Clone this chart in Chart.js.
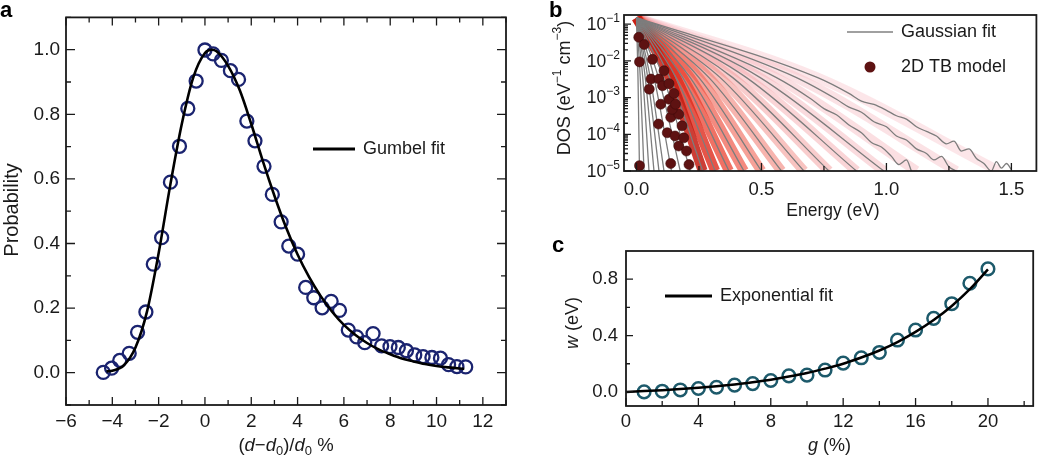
<!DOCTYPE html>
<html>
<head>
<meta charset="utf-8">
<script src="https://cdn.jsdelivr.net/npm/chart.js@4.4.0/dist/chart.umd.min.js"></script>
<style>
  html, body { margin: 0; padding: 0; background: #fff; }
  #wrap { position: relative; width: 1042px; height: 459px; overflow: hidden; }
  canvas { position: absolute; }
</style>
</head>
<body>
<div id="wrap">
  <canvas id="ca" width="520" height="459" style="left:0;top:0"></canvas>
  <canvas id="cb" width="512" height="230" style="left:530px;top:0"></canvas>
  <canvas id="cc" width="512" height="229" style="left:530px;top:230px"></canvas>
</div>
<script>
// ---- panel a : probability vs (d-d0)/d0
const aX = [-4.39, -4.03, -3.68, -3.27, -2.91, -2.55, -2.23, -1.87, -1.49, -1.1, -0.74, -0.38, 0.0, 0.35, 0.71, 1.1, 1.45,
  1.81, 2.16, 2.55, 2.91, 3.29, 3.62, 4.0, 4.35, 4.7, 5.06, 5.45, 5.81, 6.19, 6.55, 6.9, 7.26, 7.63, 7.99, 8.35, 8.7,
  9.06, 9.42, 9.8, 10.17, 10.52, 10.88, 11.26];
const aY = [0.001, 0.014, 0.038, 0.06, 0.125, 0.188, 0.336, 0.418, 0.59, 0.701, 0.818, 0.903, 0.999, 0.987, 0.967, 0.935, 0.908,
  0.779, 0.718, 0.639, 0.552, 0.467, 0.392, 0.367, 0.264, 0.232, 0.201, 0.221, 0.193, 0.132, 0.111, 0.093, 0.121, 0.083, 0.081, 0.078, 0.068,
  0.055, 0.05, 0.047, 0.045, 0.025, 0.019, 0.018];
const aFitX = [-4.25, -4, -3.5, -3, -2.5, -2, -1.5, -1, -0.5, 0, 0.3, 0.5, 1, 1.5, 2, 2.5, 3, 3.5, 4, 4.5, 5, 5.5, 6, 6.5, 7, 7.5, 8, 8.5, 9, 9.5, 10, 10.5, 11, 11.2];
const aFitY = [0.004, 0.006, 0.023, 0.078, 0.19, 0.37, 0.58, 0.77, 0.915, 0.99, 1.0, 0.995, 0.95, 0.875, 0.77, 0.655, 0.548, 0.45, 0.366, 0.296,
  0.237, 0.188, 0.148, 0.117, 0.092, 0.072, 0.057, 0.044, 0.035, 0.027, 0.021, 0.0165, 0.013, 0.012];
const aXTicks = [-6, -4, -2, 0, 2, 4, 6, 8, 10, 12];
const aYTicks = [0, 0.2, 0.4, 0.6, 0.8, 1.0];

// ---- panel b : DOS tails (log scale)
const bEnd  = [0.012, 0.03, 0.05, 0.07, 0.09, 0.11, 0.14, 0.175, 0.215, 0.265, 0.315, 0.37, 0.43, 0.5, 0.58, 0.67, 0.77, 0.88, 0.99, 1.12, 1.28, 1.45];
const bMidE = [0.006, 0.015, 0.025, 0.035, 0.045, 0.055, 0.07, 0.088, 0.108, 0.133, 0.158, 0.185, 0.215, 0.25, 0.29, 0.335, 0.385, 0.44, 0.495, 0.56, 0.64, 0.725];
const bTop = 0.15, bMid = 0.0035, bBottom = 1e-5;
const bTailE19 = [0.7, 0.75, 0.8, 0.85, 0.9, 0.94, 0.98, 1.02, 1.05, 1.08, 1.1];
const bTailV19 = [9e-4, 5e-4, 3.4e-4, 1.8e-4, 1.1e-4, 6e-5, 4.5e-5, 2.5e-5, 1.5e-5, 2e-5, 1e-5];
const bTailE20 = [0.8, 0.85, 0.9, 0.95, 1.0, 1.04, 1.08, 1.12, 1.16, 1.19, 1.22, 1.25, 1.28];
const bTailV20 = [9e-4, 5.5e-4, 4e-4, 2.2e-4, 1.6e-4, 9e-5, 7e-5, 4e-5, 3e-5, 2e-5, 2.5e-5, 1.3e-5, 1e-5];
const bTailE21 = [0.85, 0.9, 0.95, 1.0, 1.04, 1.08, 1.12, 1.16, 1.2, 1.24, 1.27, 1.3, 1.33, 1.36, 1.39, 1.42, 1.44, 1.46, 1.48, 1.5];
const bTailV21 = [1.3e-3, 8e-4, 6.5e-4, 4.5e-4, 3.2e-4, 2.6e-4, 1.6e-4, 1.2e-4, 9e-5, 5.5e-5, 6.5e-5, 3.5e-5, 4e-5, 2.2e-5, 1.6e-5, 1e-5, 1.8e-5, 1.2e-5, 1.6e-5, 1.1e-5];
const bDotE = [0.009, 0.012, 0.031, 0.064, 0.058, 0.051, 0.09, 0.11, 0.104, 0.13, 0.13, 0.15, 0.097, 0.088, 0.123, 0.137, 0.169,
  0.182, 0.154, 0.169, 0.2, 0.137, 0.21, 0.012, 0.143, 0.156, 0.189];
const bDotV = [0.044, 0.0094, 0.028, 0.011, 0.0032, 0.0017, 0.0032, 0.0054, 0.0021, 0.0024, 0.0009, 0.0013, 0.00066, 0.00019, 0.00011, 0.00029, 0.00035,
  0.00017, 0.00009, 0.000048, 0.000035, 0.000016, 0.000015, 0.000014, 0.00048, 0.00066, 0.00008];
const bXTicks = [0, 0.5, 1.0, 1.5];
const bYTicks = [1e-5, 1e-4, 1e-3, 1e-2, 1e-1];

// ---- panel c : w vs g
const cG = [1, 2, 3, 4, 5, 6, 7, 8, 9, 10, 11, 12, 13, 14, 15, 16, 17, 18, 19, 20];
const cW = [0.0, 0.005, 0.014, 0.024, 0.033, 0.048, 0.059, 0.081, 0.114, 0.119, 0.155, 0.204, 0.242, 0.28, 0.368, 0.439, 0.522, 0.626, 0.771, 0.873];
const cFitG = [0, 1, 2, 3, 4, 5, 6, 7, 8, 9, 10, 11, 12, 13, 14, 15, 16, 17, 18, 19, 20];
const cFitW = [0, 0.006, 0.012, 0.02, 0.029, 0.04, 0.053, 0.069, 0.087, 0.109, 0.134, 0.165, 0.2, 0.244, 0.294, 0.354, 0.426, 0.51, 0.61, 0.729, 0.87];
const cXTicks = [0, 4, 8, 12, 16, 20];
const cYTicks = [0, 0.4, 0.8];

const FONT = '"Liberation Sans", Arial, Helvetica, sans-serif';
const INK = '#1a1a1a';
Chart.defaults.font.family = FONT;
Chart.defaults.color = INK;

const pts = (xs, ys) => xs.map((x, i) => ({ x, y: ys[i] }));
const minus = v => (v < 0 ? '\u2212' + Math.abs(v) : String(v));

function axis(type, min, max, ticks, size, tickOpts) {
  return {
    type, min, max,
    grid: { display: false, drawTicks: false },
    border: { display: false },
    ticks: Object.assign({ autoSkip: false, maxRotation: 0, font: { size: 18.5 }, color: INK }, tickOpts),
    afterBuildTicks: s => { s.ticks = ticks.map(v => ({ value: v })); },
    afterFit: s => { if (s.isHorizontal()) s.height = size; else s.width = size; }
  };
}

function opts(padding, x, y) {
  return {
    responsive: false, animation: false, devicePixelRatio: 1, events: [],
    layout: { padding },
    plugins: { legend: { display: false }, tooltip: { enabled: false } },
    scales: { x, y }
  };
}

// text with italic / sub / superscript parts
function richText(ctx, runs, x, y, size, o = {}) {
  const fontOf = r => (r[1] === 'i' ? 'italic ' : '') +
    (r[1] === 'sub' || r[1] === 'sup' ? Math.round(size * 0.68) : size) + 'px ' + FONT;
  ctx.save();
  ctx.translate(x, y);
  if (o.rot) ctx.rotate(o.rot);
  let w = 0;
  runs.forEach(r => { ctx.font = fontOf(r); w += ctx.measureText(r[0]).width; });
  let cx = o.align === 'right' ? -w : -w / 2;
  ctx.fillStyle = INK;
  ctx.textBaseline = 'middle';
  ctx.textAlign = 'left';
  runs.forEach(r => {
    ctx.font = fontOf(r);
    const dy = r[1] === 'sub' ? size * 0.3 : r[1] === 'sup' ? -size * 0.38 : 0;
    ctx.fillText(r[0], cx, dy);
    cx += ctx.measureText(r[0]).width;
  });
  ctx.restore();
}

function legendLine(ctx, x1, x2, y, color, w, label) {
  ctx.save();
  ctx.strokeStyle = color; ctx.lineWidth = w;
  ctx.beginPath(); ctx.moveTo(x1, y); ctx.lineTo(x2, y); ctx.stroke();
  ctx.fillStyle = INK; ctx.font = '18px ' + FONT;
  ctx.textBaseline = 'middle'; ctx.fillText(label, x2 + 8, y);
  ctx.restore();
}

function letter(ctx, t, x, y) {
  ctx.save();
  ctx.fillStyle = '#000'; ctx.font = 'bold 22px ' + FONT;
  ctx.textBaseline = 'alphabetic'; ctx.fillText(t, x, y);
  ctx.restore();
}

// frame + inward ticks + extra texts
function decor(cfg) {
  return {
    id: 'decor',
    afterDraw(chart) {
      const { ctx, chartArea: a } = chart;
      const xs = chart.scales.x, ys = chart.scales.y;
      ctx.save();
      ctx.strokeStyle = INK;
      ctx.lineWidth = 1.3;
      ctx.beginPath();
      cfg.ticks.forEach(([side, vals, len]) => {
        vals.forEach(v => {
          if (side === 'b' || side === 't') {
            const p = xs.getPixelForValue(v);
            const y0 = side === 'b' ? a.bottom : a.top;
            ctx.moveTo(p, y0); ctx.lineTo(p, side === 'b' ? y0 - len : y0 + len);
          } else {
            const p = ys.getPixelForValue(v);
            const x0 = side === 'l' ? a.left : a.right;
            ctx.moveTo(x0, p); ctx.lineTo(side === 'l' ? x0 + len : x0 - len, p);
          }
        });
      });
      ctx.stroke();
      ctx.lineWidth = 1.8;
      ctx.strokeRect(a.left, a.top, a.right - a.left, a.bottom - a.top);
      ctx.restore();
      cfg.extra(ctx, a, chart);
    }
  };
}

// ---------------- panel a
const aMinX = [-5, -3, -1, 1, 3, 5, 7, 9, 11, 13];
const aMinY = [-0.1, 0.1, 0.3, 0.5, 0.7, 0.9, 1.1];
new Chart(document.getElementById('ca'), {
  type: 'scatter',
  data: { datasets: [
    { data: pts(aFitX, aFitY), showLine: true, borderColor: '#000', borderWidth: 2.6, pointRadius: 0, cubicInterpolationMode: 'monotone' },
    { data: pts(aX, aY), pointRadius: 6.5, pointBorderWidth: 2.3, pointBorderColor: '#1b2470', pointBackgroundColor: 'rgba(255,255,255,0)' }
  ] },
  options: opts({ left: 0, right: 14, top: 15, bottom: 0 },
    axis('linear', -6, 13, aXTicks, 54, { padding: 5.5, font: { size: 19 }, callback: v => minus(v) }),
    axis('linear', -0.1, 1.1, aYTicks, 66, { padding: 6, font: { size: 19 }, callback: v => v.toFixed(1) })),
  plugins: [decor({
    ticks: [['b', aXTicks, 8], ['b', aMinX, 5], ['t', aXTicks, 8], ['t', aMinX, 5],
            ['l', aYTicks, 9], ['l', aMinY, 5], ['r', aYTicks, 9], ['r', aMinY, 5]],
    extra(ctx, a) {
      letter(ctx, 'a', 0, 17);
      richText(ctx, [['Probability', '']], 12, 210, 20, { rot: -Math.PI / 2 });
      richText(ctx, [['(', ''], ['d', 'i'], ['\u2212', ''], ['d', 'i'], ['0', 'sub'], [')/', ''], ['d', 'i'], ['0', 'sub'], [' %', '']],
        (a.left + a.right) / 2, 446, 18.5);
      legendLine(ctx, 313, 355, 149, '#000', 3, 'Gumbel fit');
    }
  })]
});

// ---------------- panel b
const bBand = [null, null, null, null, null, null, null, null, null,
  'rgba(196,28,18,0.85)', 'rgba(222,42,28,0.8)', 'rgba(234,58,40,0.72)', 'rgba(238,78,60,0.66)', 'rgba(240,98,84,0.6)',
  'rgba(241,118,108,0.55)', 'rgba(242,136,130,0.5)', 'rgba(243,150,150,0.48)', 'rgba(244,164,168,0.46)', 'rgba(245,176,182,0.45)',
  'rgba(246,184,190,0.45)', 'rgba(247,190,197,0.45)', 'rgba(248,196,203,0.42)'];
const bTails = { 19: [bTailE19, bTailV19], 20: [bTailE20, bTailV20], 21: [bTailE21, bTailV21] };
const MAROON = '#5e1212';
const bSets = [{ data: pts(bDotE, bDotV), order: 0, pointRadius: 5, pointBackgroundColor: MAROON, pointBorderColor: '#3e0a0a', pointBorderWidth: 0.6, clip: 0 }];
bEnd.forEach((e, i) => {
  const head = [{ x: 0, y: bTop }, { x: bMidE[i], y: bMid }];
  const tail = bTails[i] ? pts(bTails[i][0], bTails[i][1]) : [{ x: e, y: bBottom }];
  bSets.push({ data: head.concat(tail), order: 1, showLine: true, borderColor: '#7d7d7d', borderWidth: 1.3,
    pointRadius: 0, cubicInterpolationMode: 'monotone', clip: 0 });
  if (bBand[i]) {
    bSets.push({ data: head.concat([{ x: e, y: bBottom }]), order: 2, showLine: true, borderColor: bBand[i], borderWidth: 10,
      borderCapStyle: 'butt', pointRadius: 0, cubicInterpolationMode: 'monotone', clip: 0 });
  }
});
const bMinX = [0.25, 0.75, 1.25];
const bMinY = [];
[1e-5, 1e-4, 1e-3, 1e-2, 1e-1].forEach(d => { for (let k = 2; k <= 9; k++) if (d * k < 0.178) bMinY.push(d * k); });
new Chart(document.getElementById('cb'), {
  type: 'scatter',
  data: { datasets: bSets },
  options: opts({ left: 0, right: 1, top: 15, bottom: 0 },
    axis('linear', -0.05, 1.6, bXTicks, 59, { padding: 8, callback: v => v.toFixed(1) }),
    axis('logarithmic', 1e-5, 0.178, bYTicks, 94, { display: false })),
  plugins: [decor({
    ticks: [['b', bXTicks, 8], ['b', bMinX, 5], ['l', bYTicks, 7], ['l', bMinY, 4]],
    extra(ctx, a, chart) {
      letter(ctx, 'b', 19, 17);
      bYTicks.forEach((v, i) => {
        richText(ctx, [['10', ''], ['\u2212' + (5 - i), 'sup']], a.left - 4, chart.scales.y.getPixelForValue(v) + 1, 17.5, { align: 'right' });
      });
      richText(ctx, [['DOS (eV', ''], ['\u22121', 'sup'], [' cm', ''], ['\u22123', 'sup'], [')', '']], 35, 88, 18, { rot: -Math.PI / 2 });
      richText(ctx, [['Energy (eV)', '']], 303, 211, 17.5);
      legendLine(ctx, 317, 363, 32, '#808080', 1.5, 'Gaussian fit');
      ctx.save();
      ctx.fillStyle = MAROON;
      ctx.beginPath(); ctx.arc(340, 67, 5.5, 0, Math.PI * 2); ctx.fill();
      ctx.fillStyle = INK; ctx.font = '18px ' + FONT; ctx.textBaseline = 'middle';
      ctx.fillText('2D TB model', 371, 67);
      ctx.restore();
    }
  })]
});

// ---------------- panel c
const cMinX = [2, 6, 10, 14, 18, 22];
const cMinY = [0.2, 0.6];
new Chart(document.getElementById('cc'), {
  type: 'scatter',
  data: { datasets: [
    { data: pts(cFitG, cFitW), showLine: true, borderColor: '#000', borderWidth: 2.5, pointRadius: 0, cubicInterpolationMode: 'monotone' },
    { data: pts(cG, cW), pointRadius: 6.3, pointBorderWidth: 2.5, pointBorderColor: '#1d5a6b', pointBackgroundColor: 'rgba(255,255,255,0)' }
  ] },
  options: opts({ left: 0, right: 2, top: 21, bottom: 0 },
    axis('linear', 0, 22.5, cXTicks, 53, { padding: 5, callback: v => String(v) }),
    axis('linear', -0.1, 1.0, cYTicks, 96, { padding: 8, callback: v => v.toFixed(1) })),
  plugins: [decor({
    ticks: [['b', cXTicks, 8], ['b', cMinX, 5], ['l', cYTicks, 7], ['l', cMinY, 4]],
    extra(ctx, a) {
      letter(ctx, 'c', 22, 22);
      richText(ctx, [['g', 'i'], [' (%)', '']], (a.left + a.right) / 2, 216, 18);
      richText(ctx, [['w', 'i'], [' (eV)', '']], 43, 93, 18, { rot: -Math.PI / 2 });
      legendLine(ctx, 135, 182, 66, '#000', 3, 'Exponential fit');
    }
  })]
});
</script>
</body>
</html>
